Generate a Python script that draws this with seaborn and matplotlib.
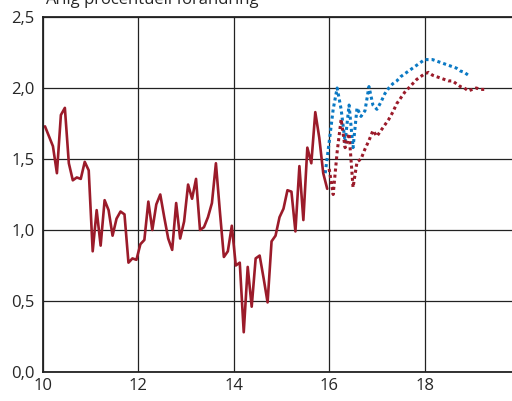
import matplotlib
matplotlib.use("Agg")
import matplotlib.pyplot as plt
import seaborn as sns
import pandas as pd
import numpy as np

# Outcome, monthly from Jan 2010
outcome = [
    1.73, 1.66, 1.59, 1.40, 1.81, 1.86, 1.47, 1.35, 1.37, 1.36, 1.48, 1.42,
    0.85, 1.14, 0.89, 1.21, 1.14, 0.96, 1.08, 1.13, 1.11, 0.77, 0.80, 0.79,
    0.90, 0.93, 1.20, 1.00, 1.18, 1.25, 1.09, 0.94, 0.86, 1.19, 0.94, 1.06,
    1.32, 1.22, 1.36, 1.00, 1.02, 1.09, 1.19, 1.47, 1.13, 0.81, 0.85, 1.03,
    0.75, 0.77, 0.28, 0.74, 0.46, 0.80, 0.82, 0.66, 0.49, 0.92, 0.96, 1.09,
    1.15, 1.28, 1.27, 0.99, 1.45, 1.07, 1.58, 1.47, 1.83, 1.65, 1.40, 1.29,
]
# Forecast, blue dotted (monthly from Dec 2015)
forecast_blue = [
    1.40, 1.62, 1.85, 2.00, 1.85, 1.62, 1.88, 1.58, 1.86, 1.80, 1.84, 2.01,
    1.88, 1.85, 1.90, 1.96, 2.00, 2.03, 2.05, 2.08, 2.10, 2.12, 2.14, 2.16,
    2.18, 2.20, 2.20, 2.20, 2.19, 2.18, 2.17, 2.16, 2.15, 2.14, 2.12, 2.11,
    2.09,
]
# Forecast, red dotted (monthly from Jan 2016)
forecast_red = [
    1.43, 1.25, 1.55, 1.78, 1.58, 1.68, 1.30, 1.48, 1.50, 1.57, 1.63, 1.70,
    1.66, 1.70, 1.74, 1.78, 1.83, 1.89, 1.93, 1.97, 2.00, 2.03, 2.06, 2.08,
    2.10, 2.11, 2.09, 2.08, 2.07, 2.06, 2.05, 2.05, 2.03, 2.01, 2.00, 1.98,
    1.99, 2.00, 1.99, 1.99,
]

x_ticks = [10, 12, 14, 16, 18]
y_ticks = [0.0, 0.5, 1.0, 1.5, 2.0, 2.5]
y_labels = ["0,0", "0,5", "1,0", "1,5", "2,0", "2,5"]
title = "Årlig procentuell förändring"

RED = "#9b1b2a"
BLUE = "#0a79c4"

df_out = pd.DataFrame({"year": 10 + (np.arange(len(outcome)) + 0.5) / 12, "value": outcome})
df_blue = pd.DataFrame({"year": 15 + 11 / 12 + np.arange(len(forecast_blue)) / 12, "value": forecast_blue})
df_red = pd.DataFrame({"year": 16 + np.arange(len(forecast_red)) / 12, "value": forecast_red})

sns.set_style("white")
plt.rcParams["font.family"] = ["Open Sans", "DejaVu Sans"]

fig = plt.figure(figsize=(5.12, 4.01), dpi=100)
ax = fig.add_axes([43 / 512, 29 / 401, 477 / 512, 355 / 401])

sns.lineplot(data=df_blue, x="year", y="value", ax=ax, color=BLUE, lw=2.2,
             linestyle=(0, (1, 1)))
sns.lineplot(data=df_red, x="year", y="value", ax=ax, color=RED, lw=2.2,
             linestyle=(0, (1, 1)))
sns.lineplot(data=df_out, x="year", y="value", ax=ax, color=RED, lw=1.9)

ax.set_xlim(10, 20)
ax.set_ylim(0, 2.5)
ax.set_xticks(x_ticks)
ax.set_xticklabels([str(t) for t in x_ticks], fontsize=12)
ax.set_yticks(y_ticks)
ax.set_yticklabels(y_labels, fontsize=12)
ax.grid(True, color="#222222", lw=0.9)
ax.tick_params(axis="x", length=0, pad=4)
ax.tick_params(axis="y", length=4, width=1.2, color="#222222", pad=2, direction="out")
ax.set_xlabel("")
ax.set_ylabel("")
for side in ["left", "bottom", "top"]:
    ax.spines[side].set_color("#222222")
    ax.spines[side].set_linewidth(1.3)
ax.spines["right"].set_visible(False)

fig.text(45 / 512, 1 - 4 / 401, title, fontsize=12, va="baseline", ha="left")

fig.savefig("out.png", dpi=100)
